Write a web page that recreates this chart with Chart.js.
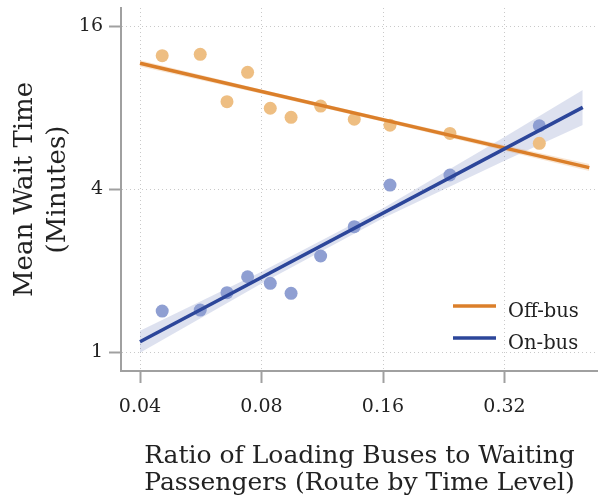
<!DOCTYPE html>
<html>
<head>
<meta charset="utf-8">
<script src="https://cdn.jsdelivr.net/npm/chart.js@4.4.1/dist/chart.umd.min.js"></script>
<style>
  html, body { margin: 0; padding: 0; background: #fff; }
  #wrap { width: 598px; height: 500px; position: relative; }
</style>
</head>
<body>
<div id="wrap"><canvas id="c"></canvas></div>
<script>
// ---- data ----
const seriesNames = ['Off-bus', 'On-bus'];
const ratio = [0.0454, 0.0564, 0.0657, 0.0739, 0.0841, 0.0947, 0.1121, 0.1358, 0.1665, 0.2344, 0.3903];
const offBusWait = [12.43, 12.58, 8.41, 10.79, 7.95, 7.36, 8.10, 7.24, 6.88, 6.42, 5.90];
const onBusWait = [1.417, 1.429, 1.656, 1.897, 1.794, 1.647, 2.263, 2.903, 4.138, 4.506, 6.85];

// fitted lines (endpoints) and confidence bands
const offFitX = [0.04, 0.519];
const offFitY = [11.65, 4.80];
const offBandX = [0.04, 0.08, 0.16, 0.32, 0.519];
const offBandUpper = [11.95, 9.32, 7.33, 5.80, 4.95];
const offBandLower = [11.35, 9.00, 7.09, 5.54, 4.66];

const onFitX = [0.04, 0.50];
const onFitY = [1.091, 8.01];
const onBandX = [0.04, 0.08, 0.16, 0.32, 0.50];
const onBandUpper = [1.198, 1.98, 3.40, 6.23, 9.29];
const onBandLower = [0.994, 1.79, 3.12, 5.09, 6.90];

const xTicks = [0.04, 0.08, 0.16, 0.32];
const xTickLabels = ['0.04', '0.08', '0.16', '0.32'];
const yTicks = [1, 4, 16];
const yTickLabels = ['1', '4', '16'];
const xTitle = ['Ratio of Loading Buses to Waiting', 'Passengers (Route by Time Level)'];
const yTitle = ['Mean Wait Time', '(Minutes)'];

// ---- styles ----
const offLine = '#DB7F2A';
const offPoint = '#EEBE82';
const offBand = 'rgba(225,135,50,0.22)';
const onLine = '#2C469A';
const onPoint = '#8F9FD2';
const onBand = 'rgba(44,70,154,0.16)';
const axisGrey = '#a0a0a0';
const serif = 'DejaVu Serif';

const pts = (xs, ys) => xs.map((x, i) => ({ x: x, y: ys[i] }));

Chart.defaults.font.family = serif;
Chart.defaults.color = '#222';

const legendPlugin = {
  id: 'insideLegend',
  afterDraw(chart) {
    const ctx = chart.ctx;
    const a = chart.chartArea;
    const items = [
      { label: seriesNames[0], color: offLine },
      { label: seriesNames[1], color: onLine }
    ];
    ctx.save();
    items.forEach((it, i) => {
      const y = a.bottom - 65 + i * 32;
      ctx.strokeStyle = it.color;
      ctx.lineWidth = 3.5;
      ctx.beginPath();
      ctx.moveTo(a.right - 145, y);
      ctx.lineTo(a.right - 102, y);
      ctx.stroke();
      ctx.fillStyle = '#222';
      ctx.font = '19.5px "' + serif + '"';
      ctx.textBaseline = 'middle';
      ctx.textAlign = 'left';
      ctx.fillText(it.label, a.right - 90, y + 6);
    });
    ctx.restore();
  }
};

new Chart(document.getElementById('c'), {
  type: 'scatter',
  data: {
    datasets: [
      // bands
      { label: 'offUpper', data: pts(offBandX, offBandUpper), showLine: true, borderWidth: 0, pointRadius: 0, fill: false, order: 3, borderColor: 'rgba(0,0,0,0)' },
      { label: 'offLower', data: pts(offBandX, offBandLower), showLine: true, borderWidth: 0, pointRadius: 0, fill: '-1', backgroundColor: offBand, order: 3, borderColor: 'rgba(0,0,0,0)' },
      { label: 'onUpper', data: pts(onBandX, onBandUpper), showLine: true, borderWidth: 0, pointRadius: 0, fill: false, order: 3, borderColor: 'rgba(0,0,0,0)' },
      { label: 'onLower', data: pts(onBandX, onBandLower), showLine: true, borderWidth: 0, pointRadius: 0, fill: '-1', backgroundColor: onBand, order: 3, borderColor: 'rgba(0,0,0,0)' },
      // points
      { label: seriesNames[0] + ' points', data: pts(ratio, offBusWait), pointRadius: 6.5, backgroundColor: offPoint, borderWidth: 0, order: 2 },
      { label: seriesNames[1] + ' points', data: pts(ratio, onBusWait), pointRadius: 6.5, backgroundColor: onPoint, borderWidth: 0, order: 2 },
      // fit lines
      { label: seriesNames[0], data: pts(offFitX, offFitY), showLine: true, borderColor: offLine, borderWidth: 3.5, pointRadius: 0, fill: false, order: 1 },
      { label: seriesNames[1], data: pts(onFitX, onFitY), showLine: true, borderColor: onLine, borderWidth: 3.5, pointRadius: 0, fill: false, order: 0 }
    ]
  },
  options: {
    responsive: true,
    maintainAspectRatio: false,
    animation: false,
    devicePixelRatio: 1,
    layout: { autoPadding: false, padding: { top: 8, left: 0, right: 0, bottom: 0 } },
    plugins: { legend: { display: false }, tooltip: { enabled: false } },
    scales: {
      x: {
        type: 'logarithmic',
        min: 0.03589,
        max: 0.5455,
        bounds: 'data',
        afterBuildTicks: s => { s.ticks = xTicks.map(v => ({ value: v })); },
        afterFit: s => { s.height = 129; s.paddingLeft = 0; s.paddingRight = 0; s.paddingTop = 0; s.paddingBottom = 0; },
        ticks: {
          autoSkip: false, maxRotation: 0, padding: 13,
          font: { size: 19 }, color: '#222',
          callback: (v, i) => xTickLabels[i]
        },
        grid: { color: '#c9c9c9', lineWidth: 1, tickLength: 12, tickColor: axisGrey, tickWidth: 2, tickBorderDash: [] },
        border: { display: true, color: axisGrey, width: 2, dash: [1, 3] },
        title: {
          display: true, text: xTitle, color: '#222',
          font: { size: 25, lineHeight: '27px' },
          padding: { top: 0, bottom: 3 }
        }
      },
      y: {
        type: 'logarithmic',
        min: 0.8509,
        max: 18.65,
        bounds: 'data',
        afterBuildTicks: s => { s.ticks = yTicks.map(v => ({ value: v })); },
        afterFit: s => { s.width = 121; s.paddingLeft = 0; s.paddingRight = 0; s.paddingTop = 0; s.paddingBottom = 0; },
        ticks: {
          autoSkip: false, padding: 6,
          font: { size: 19 }, color: '#222',
          callback: (v, i) => yTickLabels[i]
        },
        grid: { color: '#c9c9c9', lineWidth: 1, tickLength: 12, tickColor: axisGrey, tickWidth: 2, tickBorderDash: [] },
        border: { display: true, color: axisGrey, width: 2, dash: [1, 3] },
        title: {
          display: true, text: yTitle, color: '#222',
          font: { size: 26, lineHeight: '33px' },
          padding: { top: 8.5, bottom: 0 }
        }
      }
    }
  },
  plugins: [legendPlugin]
});
</script>
</body>
</html>
